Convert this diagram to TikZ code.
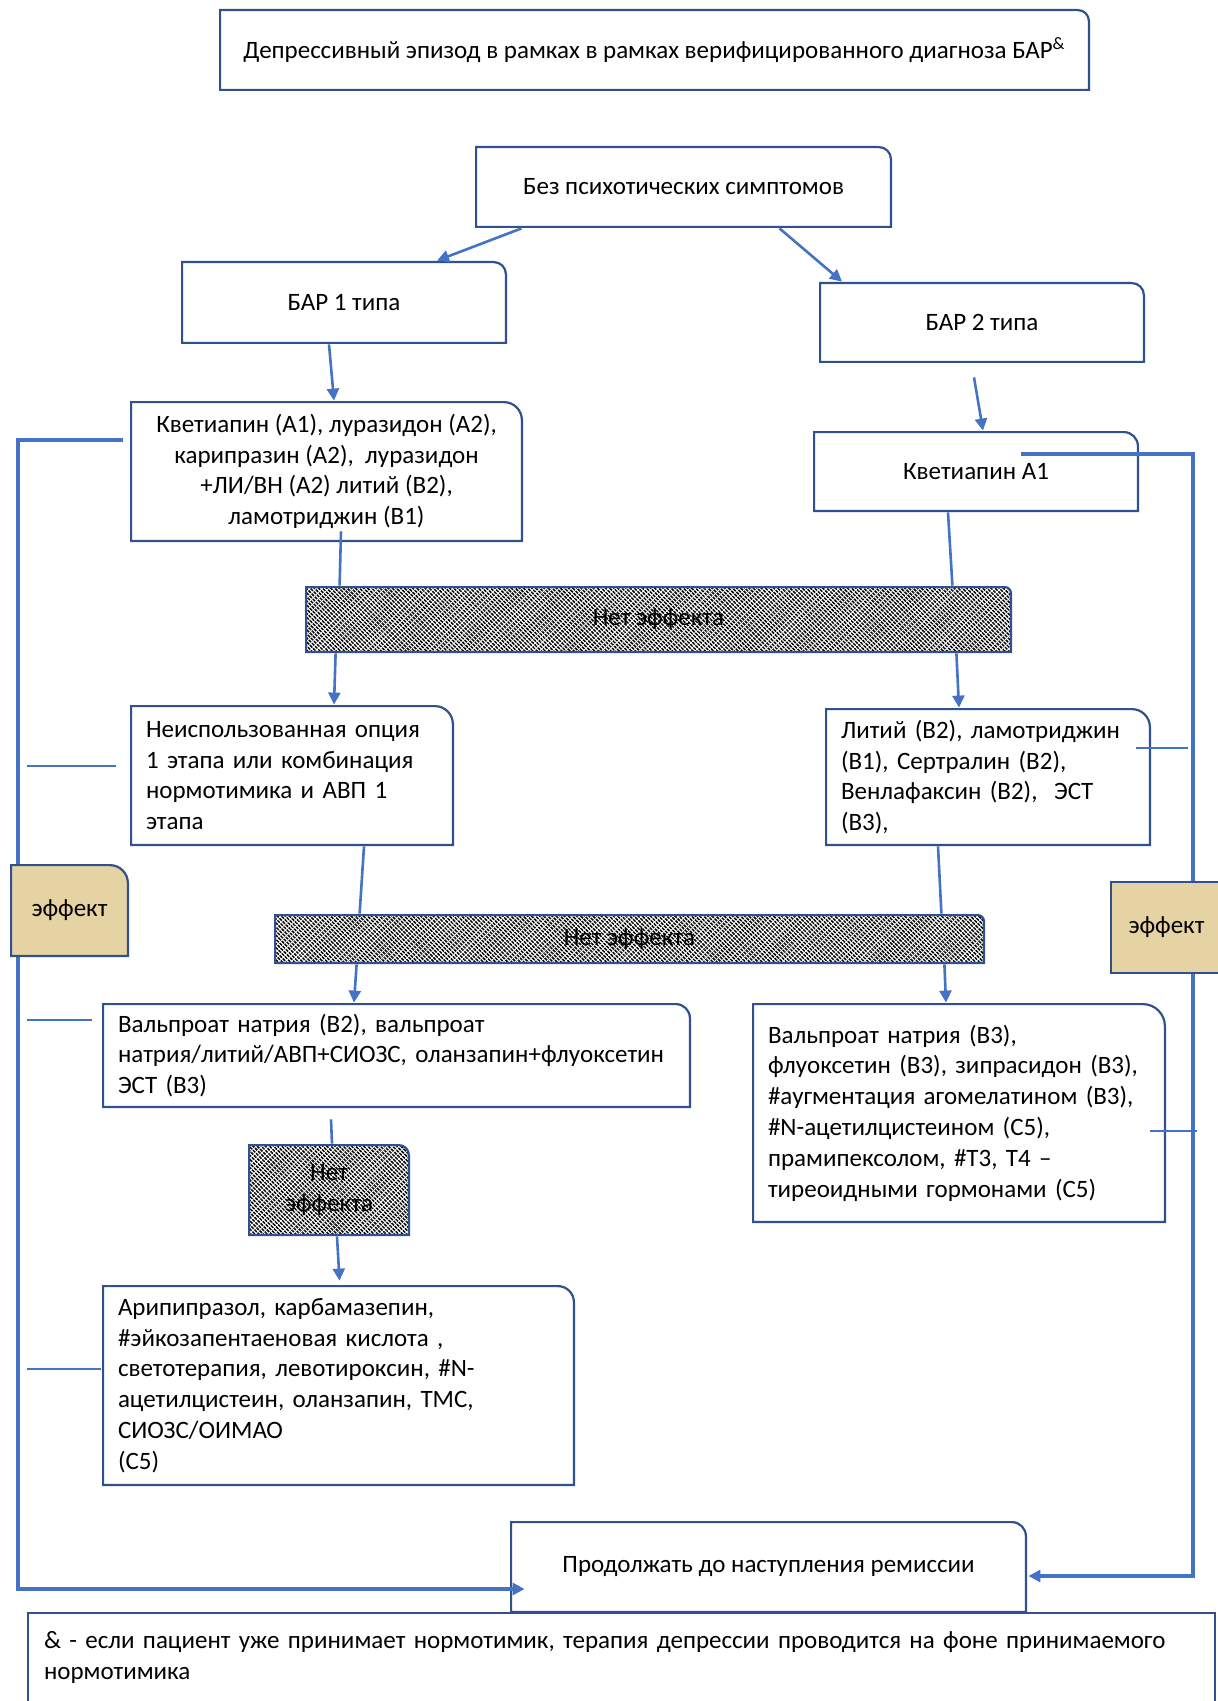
\documentclass[tikz,border=0pt]{standalone}
\usepackage{fontspec}
\setmainfont{Carlito}
\usetikzlibrary{arrows.meta,patterns.meta}

\definecolor{boxline}{RGB}{47,82,143}
\definecolor{flowline}{RGB}{68,114,196}
\definecolor{papyrus}{RGB}{230,211,164}
\newcommand{\boxfont}{\fontsize{12.5}{15.4}\selectfont}

\tikzset{
  cardrad/.store in=\cardrad, cardrad=6pt,
  cardfill/.style={},
  % box with one rounded corner (top right)
  card/.style={inner xsep=8pt, inner ysep=2pt, font=\boxfont,
    path picture={
      \path[cardfill, draw=boxline, line width=1.1pt]
        ([shift={(0.55pt,0.55pt)}]path picture bounding box.south west)
        |- ([shift={(-\cardrad-0.55pt,-0.55pt)}]path picture bounding box.north east)
        arc[start angle=90, end angle=0, radius=\cardrad]
        -- ([shift={(-0.55pt,0.55pt)}]path picture bounding box.south east) -- cycle;
    }},
  nofx/.style={cardrad=3pt, cardfill/.style={preaction={fill=white},
      preaction={pattern={Lines[angle=-45,distance=1.45pt,line width=0.75pt]}, pattern color=black},
      preaction={pattern={Lines[angle=45,distance=2.2pt,line width=0.4pt]}, pattern color=white}}},
  flow/.style={flowline, line width=1.3pt, -{Triangle[length=6pt,width=6pt]}},
  link/.style={flowline, line width=1.3pt},
  back/.style={flowline, line width=1.6pt},
  tick/.style={flowline, line width=0.8pt},
}

\begin{document}
\begin{tikzpicture}[x=0.5pt, y=-0.5pt]
  \useasboundingbox (0,0) rectangle (1218,1701);

  % boxes
  \node[card, cardrad=5.5pt, minimum width=435.5pt, minimum height=41pt] (diag) at (654.5,50)
    {Депрессивный эпизод в рамках в рамках верифицированного диагноза БАР\textsuperscript{\&}};
  \node[card, minimum width=208.5pt, minimum height=41pt] (nopsy) at (683.5,187) {Без психотических симптомов};
  \node[card, minimum width=163pt, minimum height=41.5pt] (bar1) at (344,302.5) {БАР 1 типа};
  \node[card, minimum width=163pt, minimum height=40.5pt] (bar2) at (982,322.5) {БАР 2 типа};
  \node[card, cardrad=9pt, minimum width=196.5pt, minimum height=70.5pt, align=center] (first1) at (326.5,471.5)
    {Кветиапин (A1), луразидон (A2),\\ карипразин (A2),\ \ луразидон\\ +ЛИ/ВН (A2) литий (B2),\\ ламотриджин (B1)};
  \node[card, cardrad=7pt, minimum width=163pt, minimum height=40.5pt] (first2) at (976,471.5) {Кветиапин A1};
  \node[card, nofx, minimum width=353.5pt, minimum height=33.5pt] (fail1) at (658.5,619.5) {Нет эффекта};
  \node[card, cardrad=9pt, minimum height=70.5pt, text width=146pt, align=left] (second1) at (292,775.5)
    {Неиспользованная опция\\ 1 этапа или комбинация\\ нормотимика и АВП 1\\ этапа};
  \node[card, cardrad=9pt, minimum height=69pt, text width=147pt, align=left] (second2) at (988,777)
    {Литий (B2), ламотриджин\\ (B1), Сертралин (B2),\\ Венлафаксин (B2),\ \ ЭСТ\\ (B3),};
  \node[card, nofx, minimum width=355.5pt, minimum height=25pt] (fail2) at (629.5,939) {Нет эффекта};
  \node[card, cardrad=7pt, minimum height=52.5pt, text width=278.5pt, align=left] (third1) at (396.5,1055.5)
    {Вальпроат натрия (B2), вальпроат\\ натрия/литий/АВП+СИОЗС, оланзапин+флуоксетин\\ ЭСТ (B3)};
  \node[card, cardrad=11pt, minimum height=110pt, text width=191pt, align=left] (third2) at (959,1113)
    {Вальпроат натрия (B3),\\ флуоксетин (B3), зипрасидон (B3),\\ \#аугментация агомелатином (B3),\\
     \#N-ацетилцистеином (C5),\\ прамипексолом, \#T3, T4 –\\ тиреоидными гормонами (C5)};
  \node[card, nofx, cardrad=5pt, minimum width=81pt, minimum height=46pt, align=center] (fail3) at (329,1190) {Нет\\ эффекта};
  \node[card, cardrad=8pt, minimum height=100.5pt, text width=220.5pt, align=left] (fourth) at (338.5,1385.5)
    {Арипипразол, карбамазепин,\\ \#эйкозапентаеновая кислота ,\\ светотерапия, левотироксин, \#N-\\
     ацетилцистеин, оланзапин, ТМС,\\ СИОЗС/ОИМАО\\ (C5)};
  \node[card, cardrad=7pt, minimum width=258.5pt, minimum height=46pt] (goal) at (768.5,1567) {Продолжать до наступления ремиссии};
  \node[draw=boxline, line width=1.1pt, font=\boxfont, inner xsep=8pt, text width=577.5pt, minimum height=44.5pt, align=left]
    (note) at (621.5,1657.5)
    {\& - если пациент уже принимает нормотимик, терапия депрессии проводится на фоне принимаемого\\ нормотимика};

  % arrows
  \draw[flow] ([xshift=-81pt]nopsy.south) -- ([xshift=46.5pt]bar1.north);
  \draw[flow] ([xshift=48pt]nopsy.south) -- ([xshift=-70pt]bar2.north);
  \draw[flow] ([xshift=-7.5pt]bar1.south) -- ([xshift=3.75pt]first1.north);
  \draw[flow] ([xshift=-4pt,yshift=-7pt]bar2.south) -- ([xshift=3.5pt]first2.north);
  \draw[link] ([xshift=7.25pt,yshift=5.5pt]first1.south) -- ([xshift=17.5pt]fail1.north west);
  \draw[link] ([xshift=-14pt]first2.south) -- ([xshift=-30pt]fail1.north east);
  \draw[flow] ([xshift=15.5pt]fail1.south west) -- ([xshift=21pt]second1.north);
  \draw[flow] ([xshift=-28pt]fail1.south east) -- ([xshift=-14.5pt]second2.north);
  \draw[link] ([xshift=36pt]second1.south) -- ([xshift=43pt]fail2.north west);
  \draw[link] ([xshift=-25pt]second2.south) -- ([xshift=-22pt]fail2.north east);
  \draw[flow] ([xshift=41.5pt]fail2.south west) -- ([xshift=-21.25pt]third1.north);
  \draw[flow] ([xshift=-20.5pt]fail2.south east) -- ([xshift=-6.5pt]third2.north);
  \draw[link] ([xshift=-32.75pt,yshift=-5.5pt]third1.south) -- ([xshift=1.5pt]fail3.north);
  \draw[flow] ([xshift=4pt]fail3.south) -- ([xshift=0.5pt,yshift=2pt]fourth.north);

  % effect loops
  \coordinate (leftrail) at (18,0);
  \coordinate (rightrail) at (1193,0);
  \coordinate (backL) at ([xshift=-3.5pt,yshift=15.75pt]first1.west);
  \coordinate (goalL) at ([xshift=7.5pt,yshift=-11pt]goal.west);
  \coordinate (backR) at ([xshift=-59pt,yshift=8.75pt]first2.east);
  \coordinate (goalR) at ([xshift=0.5pt,yshift=-4.5pt]goal.east);
  \draw[back, -{Triangle[length=6pt,width=6pt]}] (backL) -| (leftrail |- goalL) -- (goalL);
  \draw[back, -{Triangle[length=6pt,width=6pt]}] (backR) -| (rightrail |- goalR) -- (goalR);
  \draw[tick] ([xshift=-7pt,yshift=4.75pt]second1.west) -- +(-89,0);
  \draw[tick] ([xshift=-5pt,yshift=17.75pt]third1.west) -- +(-65,0);
  \draw[tick] ([xshift=-0.5pt,yshift=8.25pt]fourth.west) -- +(-74,0);
  \draw[tick] ([xshift=-7.5pt,yshift=14.5pt]second2.east) -- +(52,0);
  \draw[tick] ([xshift=-8pt,yshift=-9pt]third2.east) -- +(47,0);

  \node[card, cardrad=9pt, cardfill/.style={fill=papyrus}, minimum width=59.5pt, minimum height=46.5pt] (fxL) at (69.5,910.5) {эффект};
  \node[draw=boxline, line width=1.1pt, fill=papyrus, font=\boxfont, minimum width=55.5pt, minimum height=45.5pt] (fxR) at (1166.5,927.5) {эффект};
\end{tikzpicture}
\end{document}
